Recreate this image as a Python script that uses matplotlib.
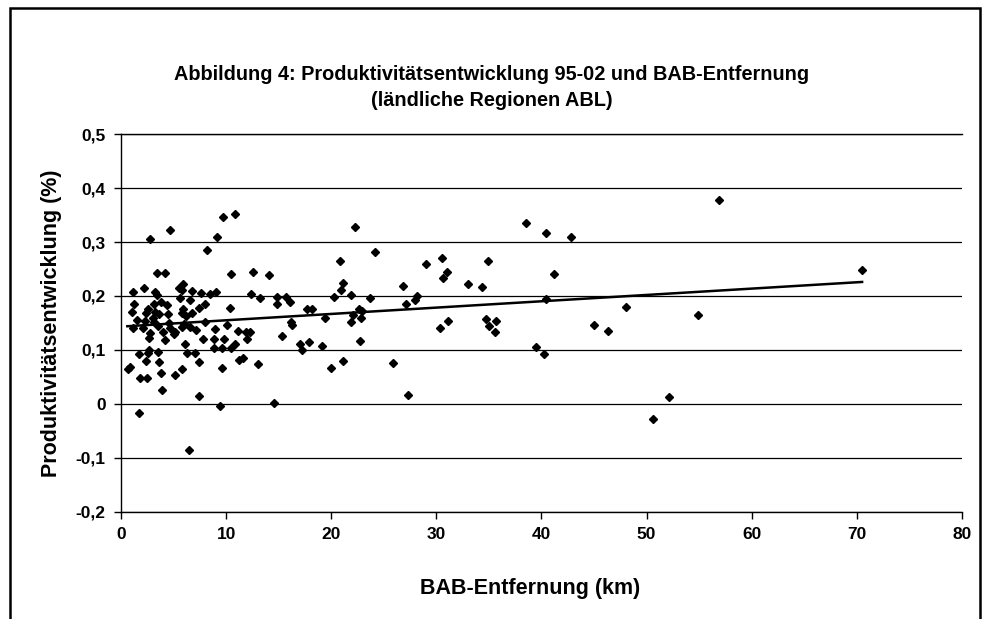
import matplotlib
matplotlib.use("Agg")
import matplotlib.pyplot as plt
from matplotlib.ticker import FuncFormatter
from matplotlib.patches import Rectangle

# BAB-Entfernung (km) and Produktivitaetsentwicklung
dist_km = [
    2.8, 4.7, 9.7, 10.8, 9.1, 8.2, 3.4, 4.2, 10.5, 12.6, 14.1,
    22.3, 38.5, 24.2, 20.8, 21.1, 20.9, 20.3, 21.9, 23.7, 26.8, 27.1, 28.0, 28.2,
    29.0, 30.5, 31.0, 30.6, 33.0, 34.3, 34.9, 34.7, 35.0, 35.6, 35.7, 39.5,
    30.3, 31.1, 16.1, 16.2, 16.3, 17.7, 18.2, 19.4, 21.9, 22.1, 22.6, 22.9,
    22.8, 22.7, 17.0, 17.2, 17.9, 19.1, 20.0, 21.1, 25.9, 27.3,
    40.4, 42.8, 41.2, 40.4, 48.0, 45.0, 46.3, 54.9, 56.9, 40.2, 52.1, 50.6, 70.5,
    1.1, 2.2, 3.2, 3.4, 5.5, 5.9, 5.8, 5.6, 6.6, 6.8, 7.6, 8.5, 9.0, 12.4,
    13.2, 14.8, 15.7, 14.8, 1.2, 1.0, 2.4, 3.1, 3.8, 4.4, 2.6, 3.2, 3.6, 4.5,
    5.9, 5.8, 6.2, 6.8, 7.4, 8.0, 10.4, 2.3, 1.1, 2.1, 3.1, 3.5, 2.8, 2.7,
    4.0, 4.2, 4.7, 5.1, 5.0, 5.8, 6.6, 7.1, 8.0, 8.9, 10.1, 11.1, 11.9, 12.3,
    12.0, 7.8, 8.8, 9.8, 8.8, 9.6, 10.5, 10.8, 6.1, 6.3, 7.0, 7.4, 5.8, 5.1,
    3.8, 3.6, 3.5, 2.7, 2.6, 2.4, 1.7, 0.7, 0.9, 1.8, 2.5, 3.9, 7.4, 9.4,
    1.7, 6.5, 13.0, 11.2, 11.6, 9.6, 14.6, 15.3, 3.0, 4.6, 1.5, 6.0,
]
growth = [
    0.306, 0.322, 0.347, 0.351, 0.309, 0.285, 0.242, 0.242, 0.240, 0.245, 0.238,
    0.328, 0.336, 0.282, 0.264, 0.224, 0.212, 0.199, 0.202, 0.196, 0.219, 0.186, 0.193, 0.200,
    0.259, 0.270, 0.245, 0.233, 0.222, 0.216, 0.265, 0.157, 0.144, 0.133, 0.154, 0.106,
    0.141, 0.153, 0.189, 0.152, 0.146, 0.175, 0.175, 0.159, 0.152, 0.165, 0.175, 0.173,
    0.159, 0.116, 0.112, 0.100, 0.114, 0.108, 0.067, 0.080, 0.075, 0.017,
    0.317, 0.310, 0.240, 0.194, 0.180, 0.146, 0.136, 0.164, 0.378, 0.093, 0.013, -0.028, 0.248,
    0.208, 0.214, 0.207, 0.202, 0.215, 0.223, 0.212, 0.197, 0.193, 0.209, 0.205, 0.204, 0.207, 0.204,
    0.196, 0.198, 0.199, 0.186, 0.186, 0.170, 0.169, 0.186, 0.188, 0.183, 0.175, 0.171, 0.167, 0.167,
    0.175, 0.168, 0.163, 0.168, 0.177, 0.186, 0.177, 0.154, 0.141, 0.140, 0.152, 0.144, 0.131, 0.122,
    0.134, 0.119, 0.140, 0.134, 0.129, 0.142, 0.143, 0.137, 0.151, 0.138, 0.147, 0.136, 0.134, 0.134,
    0.120, 0.120, 0.120, 0.121, 0.103, 0.104, 0.103, 0.112, 0.111, 0.094, 0.095, 0.077, 0.064, 0.054,
    0.057, 0.078, 0.097, 0.100, 0.094, 0.080, 0.093, 0.064, 0.068, 0.049, 0.048, 0.026, 0.014, -0.004,
    -0.016, -0.085, 0.074, 0.081, 0.085, 0.066, 0.001, 0.126, 0.160, 0.150, 0.155, 0.148,
]

# linear trend line endpoints (as drawn in the original)
trend_x = [0.6, 70.5]
trend_y = [0.144, 0.226]

x_ticks = [0, 10, 20, 30, 40, 50, 60, 70, 80]
y_ticks = [-0.2, -0.1, 0, 0.1, 0.2, 0.3, 0.4, 0.5]

plt.rcParams['font.family'] = ['Liberation Sans', 'DejaVu Sans']

fig = plt.figure(figsize=(9.83, 6.19), dpi=100)
ax = fig.add_axes([0.1231, 0.1729, 0.8555, 0.6106])

ax.plot(dist_km, growth, linestyle='none', marker='D', markersize=3.8,
        color='black', zorder=3)
ax.plot(trend_x, trend_y, color='black', linewidth=1.8, zorder=4)

ax.set_xlim(0, 80)
ax.set_ylim(-0.2, 0.5)
ax.set_xticks(x_ticks)
ax.set_yticks(y_ticks)

comma = FuncFormatter(lambda v, p: ('%g' % round(v, 1)).replace('.', ','))
ax.xaxis.set_major_formatter(comma)
ax.yaxis.set_major_formatter(comma)

ax.yaxis.grid(True, color='black', linewidth=0.9)
ax.set_axisbelow(True)
ax.spines['right'].set_visible(False)
for s in ['left', 'bottom', 'top']:
    ax.spines[s].set_linewidth(1.0)
ax.tick_params(direction='out', length=5, width=1.0, labelsize=12.5, pad=6)
for lab in ax.get_xticklabels() + ax.get_yticklabels():
    lab.set_fontweight('bold')

ax.set_ylabel("Produktivitätsentwicklung (%)", fontsize=15.5, fontweight='bold', labelpad=10)
fig.text(0.539, 0.05, "BAB-Entfernung (km)", ha='center', va='center',
         fontsize=15.5, fontweight='bold')

fig.text(0.5, 0.879, "Abbildung 4: Produktivitätsentwicklung 95-02 und BAB-Entfernung",
         ha='center', va='center', fontsize=14.3, fontweight='bold')
fig.text(0.5, 0.837, "(ländliche Regionen ABL)",
         ha='center', va='center', fontsize=14.3, fontweight='bold')

# outer chart frame
fig.patches.append(Rectangle((0.0105, -0.05), 0.986, 1.037, transform=fig.transFigure,
                             fill=False, edgecolor='black', linewidth=1.8))

fig.savefig("out.png", dpi=100)
